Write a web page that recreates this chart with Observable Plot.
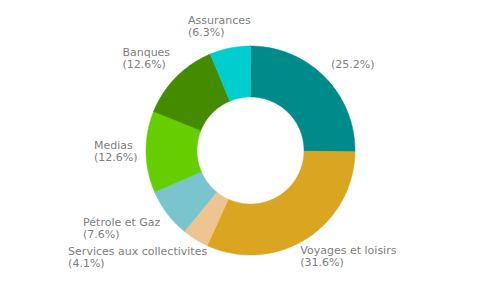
<!DOCTYPE html>
<html><head><meta charset="utf-8">
<script src="https://cdn.jsdelivr.net/npm/d3@7"></script>
<script src="https://cdn.jsdelivr.net/npm/@observablehq/plot@0.6"></script>
<style>body{margin:0;background:#fff}</style>
</head><body><div id="chart"></div>
<script>
const categories = ["", "Voyages et loisirs", "Services aux collectivites", "Pétrole et Gaz", "Medias", "Banques", "Assurances"];
const shares = [25.2, 31.6, 4.1, 7.6, 12.6, 12.6, 6.3];
const colors = ["#008B8B", "#DAA520", "#EEC591", "#7AC5CD", "#66CD00", "#458B00", "#00CDCD"];

const width = 500, height = 300;
const cx = width / 2, cy = height / 2;
const rOuter = 104.5, rInner = 53.5, rLabel = 113;
const fontPx = 11, linePx = 12;

const arcs = d3.pie().sort(null).value(d => d.value)(
  categories.map((name, i) => ({name, value: shares[i], i}))
);

const slicePts = [];
arcs.forEach(a => {
  const n = Math.max(4, Math.ceil((a.endAngle - a.startAngle) * 80));
  const pts = [];
  for (let j = 0; j <= n; j++) {
    const t = a.startAngle + (a.endAngle - a.startAngle) * j / n;
    pts.push({i: a.data.i, x: cx + rOuter * Math.sin(t), y: cy - rOuter * Math.cos(t)});
  }
  for (let j = n; j >= 0; j--) {
    const t = a.startAngle + (a.endAngle - a.startAngle) * j / n;
    pts.push({i: a.data.i, x: cx + rInner * Math.sin(t), y: cy - rInner * Math.cos(t)});
  }
  pts.push({...pts[0]});
  slicePts.push(...pts);
});

const ctx = document.createElement("canvas").getContext("2d");
ctx.font = `${fontPx}px "DejaVu Sans"`;
const clamp = v => Math.max(-1, Math.min(1, v));
const labels = arcs.map(a => {
  const pct = `(${a.data.value.toFixed(1)}%)`;
  const lines = a.data.name ? [a.data.name, pct] : [pct];
  const w = Math.max(...lines.map(l => ctx.measureText(l).width));
  const h = lines.length * linePx;
  const mid = (a.startAngle + a.endAngle) / 2;
  const sn = Math.sin(mid), cs = Math.cos(mid);
  const ax = cx + rLabel * sn, ay = cy - rLabel * cs;
  const s = clamp(1.45 * sn), t = clamp(1.45 * cs);
  return {text: lines.join("\n"), x: ax - w * (1 - s) / 2, y: ay - h * (1 + t) / 2};
});

const chart = Plot.plot({
  width, height,
  margin: 0,
  x: {domain: [0, width], range: [0, width], axis: null},
  y: {domain: [0, height], range: [0, height], axis: null},
  color: {type: "ordinal", domain: categories.map((_, i) => i), range: colors},
  style: {background: "#fff", fontFamily: "DejaVu Sans"},
  marks: [
    Plot.line(slicePts, {x: "x", y: "y", z: "i", fill: "i", stroke: "i", strokeWidth: 0.5, curve: "linear"}),
    Plot.text(labels, {x: "x", y: "y", text: "text", textAnchor: "start", lineAnchor: "top",
      lineHeight: linePx / fontPx, fontSize: fontPx, fill: "#808080", fontFamily: "DejaVu Sans"})
  ]
});
document.getElementById("chart").appendChild(chart);
</script>
</body></html>
